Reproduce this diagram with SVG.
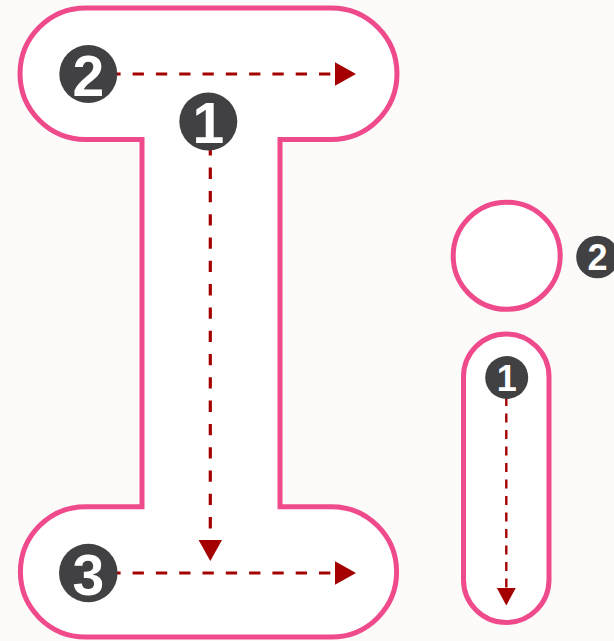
<svg xmlns="http://www.w3.org/2000/svg" width="614" height="641" viewBox="0 0 614 641">
<style>
.shape{fill:#ffffff;stroke:#EF4A8B;stroke-width:5}
.badge{fill:#414143}
.num{fill:#ffffff;font-family:"Liberation Sans",Arial,sans-serif;font-weight:bold;text-anchor:middle}
.big{font-size:57px}
.small{font-size:36px}
.flow{fill:none;stroke:#A50000;stroke-width:3.2;stroke-dasharray:11.3 12}
.flow-s{fill:none;stroke:#A50000;stroke-width:2.4;stroke-dasharray:9 7.5}
</style>
<defs>
<marker id="ah" markerUnits="userSpaceOnUse" markerWidth="21" markerHeight="24" refX="0" refY="11.7" orient="auto">
<path d="M0,0 L21,11.7 L0,23.4 Z" fill="#A50000"/>
</marker>
<marker id="ahs" markerUnits="userSpaceOnUse" markerWidth="18" markerHeight="20" refX="0" refY="9.7" orient="auto">
<path d="M0,0 L18,9.7 L0,19.4 Z" fill="#A50000"/>
</marker>
</defs>
<rect x="0" y="0" width="614" height="641" fill="#FCFBFA"/>
<g id="letter-I">
<path class="shape" d="M85.75,8 H331.25 A65.75,65.75 0 0 1 331.25,139.5 H280 V506.7 H331.5 A65.15,65.15 0 0 1 331.5,637 H85.5 A65.15,65.15 0 0 1 85.5,506.7 H142 V139.5 H85.75 A65.75,65.75 0 0 1 85.75,8 Z"/>
</g>
<g id="letter-i-dot">
<circle class="shape" cx="506.7" cy="255.8" r="53.5"/>
</g>
<g id="letter-i-stem">
<rect class="shape" x="463.5" y="334" width="85.5" height="288.5" rx="42.75" ry="42.75"/>
</g>
<g id="connectors">
<line class="flow" x1="109.3" y1="74" x2="335" y2="74" marker-end="url(#ah)"/>
<line class="flow" x1="210.3" y1="144.3" x2="210.3" y2="540" marker-end="url(#ah)"/>
<line class="flow" x1="109.3" y1="573" x2="335" y2="573" marker-end="url(#ah)"/>
<line class="flow-s" x1="506.3" y1="397" x2="506.3" y2="587.5" marker-end="url(#ahs)"/>
</g>
<g id="badge-I-2">
<circle class="badge" cx="88.3" cy="74" r="29"/>
<text class="num big" x="88.3" y="95.5">2</text>
</g>
<g id="badge-I-1">
<circle class="badge" cx="208.3" cy="121.5" r="29"/>
<text class="num big" x="208.3" y="143">1</text>
</g>
<g id="badge-I-3">
<circle class="badge" cx="88.3" cy="573" r="29.3"/>
<text class="num big" x="88.3" y="594.5">3</text>
</g>
<g id="badge-i-1">
<circle class="badge" cx="506.7" cy="377.5" r="21.5"/>
<text class="num small" x="506.7" y="390.5">1</text>
</g>
<g id="badge-i-2">
<circle class="badge" cx="597.5" cy="257" r="21.3"/>
<text class="num small" x="597.5" y="270">2</text>
</g>
</svg>
